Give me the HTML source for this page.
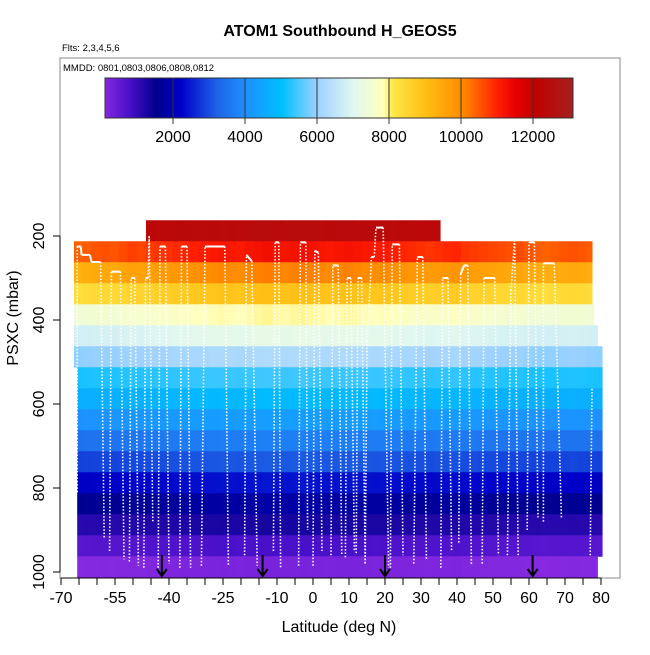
<!DOCTYPE html>
<html><head><meta charset="utf-8"><style>
body{margin:0;background:#fff;font-family:"Liberation Sans",sans-serif}
svg text{font-family:"Liberation Sans",sans-serif}
</style></head><body>
<svg id="c" width="650" height="650" xmlns="http://www.w3.org/2000/svg">
<text x="340" y="36" text-anchor="middle" font-size="16" font-weight="bold">ATOM1 Southbound H_GEOS5</text>
<text x="62" y="51" font-size="9.5">Flts: 2,3,4,5,6</text>
<g id="heat"></g>
<g id="track"></g>
<g id="arrows"></g>
<rect x="60" y="58" width="560" height="520" fill="none" stroke="#888" stroke-width="1"/>
<text x="63" y="71" font-size="9.5">MMDD: 0801,0803,0806,0808,0812</text>
<g id="cbar"></g>
<g id="axes"></g>
<text x="339" y="632" text-anchor="middle" font-size="16">Latitude (deg N)</text>
<text transform="translate(18,318) rotate(-90)" text-anchor="middle" font-size="16">PSXC (mbar)</text>
</svg>
<script>
const xTicks=[-70,-65,-60,-55,-50,-45,-40,-35,-30,-25,-20,-15,-10,-5,0,5,10,15,20,25,30,35,40,45,50,55,60,65,70,75,80];
const xLabels=[-70,-55,-40,-25,-10,0,10,20,30,40,50,60,70,80];
const yTicks=[200,400,600,800,1000];
const cbTicks=[2000,4000,6000,8000,10000,12000];
const rowP=[187.5,237.5,287.5,337.5,387.5,437.5,487.5,537.5,587.5,637.5,687.5,737.5,787.5,837.5,887.5,937.5,987.5];
const rowAlt=[12300,10900,9800,8700,7700,7000,6100,5300,4800,4200,3600,3000,2300,1700,1200,700,150];
const rowLat0=[-46.4,-66.4,-66.4,-66.4,-66.4,-66.4,-66.4,-65.5,-65.5,-65.5,-65.5,-65.5,-65.5,-65.5,-65.5,-65.5,-65.5];
const rowLat1=[35.3,77.5,77.5,77.5,78,79,80.3,80.3,80.3,80.3,80.3,80.3,80.3,80.3,80.3,80.3,79];
const colLat=[];for(let l=-66.5;l<81;l+=2.5)colLat.push(l);
const colOff=[-500,-450,-400,-350,-400,-300,-200,-250,-150,-100,-50,0,50,100,150,200,250,200,150,250,300,350,300,250,300,350,300,250,200,250,300,250,200,150,200,100,50,0,-50,-100,-50,0,50,-100,-150,-200,-250,-300,-350,-300,-400,-450,-500,-450,-400,-350,-400,-450,-500];
const arrowLat=[-42,-14,20,61];
const trackLat=[-65.5,-65.5,-64.5,-64.3,-62,-61.5,-59,-58,-56.5,-56,-53.5,-52.5,-51,-50.5,-49.5,-48.5,-47,-46.5,-45.8,-45.5,-44.5,-43,-42.5,-41,-40,-37,-36.5,-35,-34,-31,-30,-24.5,-23.5,-19,-18.5,-17,-15.5,-11,-10.5,-9.5,-9,-4,-3.5,-2,-1.5,0,0.5,1.5,2.5,5,5.5,7,8,9,9.5,10.5,11.5,12,12.5,13.5,14.5,15,16,16.2,17,17.5,19.5,21,21.5,22,24,25,28,29,30.5,31.5,35.5,36,37.5,38.5,40.5,41,42,43,44,47,47.5,50.5,51.5,54,55,56,57,59.5,60,61.5,62.5,64,64,67,68,69,77,77.5];
const trackP=[810,225,225,245,245,262,262,920,950,285,285,970,975,300,300,985,990,300,300,200,880,990,225,225,980,990,225,225,990,985,225,225,985,960,245,260,985,950,215,215,990,985,215,215,900,985,235,240,950,960,270,270,960,965,300,300,950,955,300,300,980,450,300,250,250,180,180,990,990,220,220,960,980,250,250,970,990,300,300,950,930,290,270,270,985,980,300,300,960,960,330,210,960,900,215,215,870,880,265,265,560,870,960,560];
const X=l=>313+(l)*3.6, Y=p=>236+(p-200)*0.42;
const cstops=[[0,[138,43,226]],[800,[70,15,200]],[1500,[0,0,139]],[2200,[0,0,200]],[3200,[30,100,230]],[4000,[30,144,255]],[5000,[0,191,255]],[6000,[160,210,255]],[7000,[225,248,240]],[7800,[255,255,190]],[8100,[255,230,70]],[9000,[255,190,20]],[10000,[255,140,0]],[11000,[255,30,0]],[11500,[230,0,0]],[12000,[195,0,0]],[13100,[165,32,32]]];
function col(v){v=Math.max(0,Math.min(13100,v));for(let i=1;i<cstops.length;i++){if(v<=cstops[i][0]){const a=cstops[i-1],b=cstops[i],t=(v-a[0])/(b[0]-a[0]);return 'rgb('+a[1].map((c,k)=>Math.round(c+(b[1][k]-c)*t)).join(',')+')';}}return 'rgb(165,32,32)';}
const NS='http://www.w3.org/2000/svg';
function mk(t,a,p){const e=document.createElementNS(NS,t);for(const k in a)e.setAttribute(k,a[k]);p.appendChild(e);return e;}
const heat=document.getElementById('heat');
rowP.forEach((p,r)=>{
 const w=[0.3,1,1,0.8,0.6,0.5,0.4,0.3,0.3,0.3,0.3,0.3,0.3,0.3,0.2,0.2,0.2][r];
 colLat.forEach((l,c)=>{
  const a=Math.max(l,rowLat0[r]),b=Math.min(l+2.5,rowLat1[r]);if(b<=a)return;
  const e=mk('rect',{x:X(a),y:Y(p-25),width:X(b)-X(a)+0.5,height:21.5,fill:col(rowAlt[r]+colOff[c]*w)},heat);
  
  
 });
});
const tr=document.getElementById('track');
for(let i=1;i<trackLat.length;i++){
 const p0=trackP[i-1],p1=trackP[i];
 if(p0>=800&&p1>=800)continue;
 const flat=Math.abs(p1-p0)<30;
 const s=mk('line',{x1:X(trackLat[i-1]),y1:Y(p0),x2:X(trackLat[i]),y2:Y(p1),stroke:'#fff','stroke-width':flat?2:1.6,'stroke-dasharray':flat?'none':'1.5 1.8'},tr);
 
 
}
const ar=document.getElementById('arrows');
arrowLat.forEach(l=>{const x=X(l);
 const g=mk('path',{d:`M${x},555 L${x},576 M${x-5},569 L${x},576 L${x+5},569`,stroke:'#000','stroke-width':2,fill:'none'},ar);
 
 });
const cb=document.getElementById('cbar');const CX=v=>101+v*0.036;
for(let v=100;v<13100;v+=50){mk('rect',{x:CX(v),y:78,width:2.3,height:40,fill:col(v)},cb);}
mk('rect',{x:105,y:78,width:468,height:40,fill:'none',stroke:'#333','stroke-width':1},cb);
cbTicks.forEach(v=>{const x=CX(v);mk('line',{x1:x,x2:x,y1:78,y2:124,stroke:'#333','stroke-width':1},cb);
 const t=mk('text',{x:x,y:142,'text-anchor':'middle','font-size':16},cb);t.textContent=v;
 
 });
const ax=document.getElementById('axes');
mk('line',{x1:X(-70),x2:X(80),y1:578,y2:578,stroke:'#000'},ax);
xTicks.forEach(v=>mk('line',{x1:X(v),x2:X(v),y1:578,y2:585,stroke:'#000'},ax));
xLabels.forEach(v=>{const t=mk('text',{x:X(v),y:603,'text-anchor':'middle','font-size':16},ax);t.textContent=v;
 
 });
mk('line',{x1:60,x2:60,y1:Y(200),y2:Y(1000),stroke:'#000'},ax);
yTicks.forEach(v=>{mk('line',{x1:53,x2:60,y1:Y(v),y2:Y(v),stroke:'#000'},ax);
 const t=mk('text',{transform:`translate(44,${Y(v)}) rotate(-90)`,'text-anchor':'middle','font-size':16},ax);t.textContent=v;
 
 });
</script>
</body></html>
